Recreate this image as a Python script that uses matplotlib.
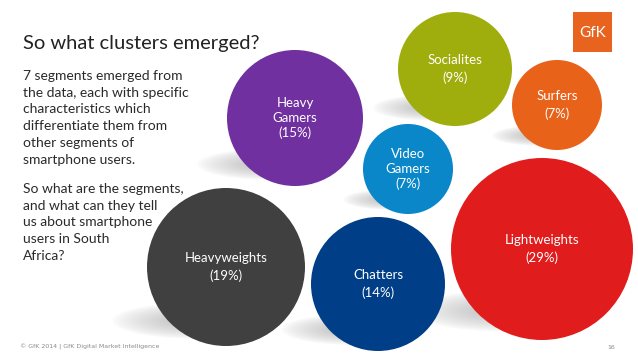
import numpy as np
import matplotlib
matplotlib.use("Agg")
import matplotlib.pyplot as plt
from matplotlib.patches import Circle, Rectangle

# segment data (bubble positions / sizes, in pixels)
segments = ["Heavy\nGamers", "Socialites", "Surfers", "Video\nGamers",
            "Heavyweights", "Chatters", "Lightweights"]
shares = [15, 9, 7, 7, 19, 14, 29]
bubble_x = [295, 455, 557, 408, 226, 378, 542]
bubble_y = [118, 69, 105, 169, 267, 284, 249]
bubble_r = [68, 57, 45, 45, 79, 67, 91]
colours = ["#7030a0", "#9fae0c", "#e8621a", "#0a87c8",
           "#404040", "#003f87", "#e01c1c"]

title = "So what clusters emerged?"
para1 = ["7 segments emerged from", "the data, each with specific",
         "characteristics which", "differentiate them from",
         "other segments of", "smartphone users."]
para2 = ["So what are the segments,", "and what can they tell",
         "us about smartphone", "users in South", "Africa?"]
footer = "\u00a9 GfK 2014 | GfK Digital Market Intelligence"
page_no = "16"

W, H = 638, 359
fig = plt.figure(figsize=(W / 100, H / 100), dpi=100)
ax = fig.add_axes([0, 0, 1, 1])
ax.set_xlim(0, W)
ax.set_ylim(H, 0)
ax.axis("off")

font = "Lato"

# soft drop shadows under each bubble
yy, xx = np.mgrid[0:H, 0:W] + 0.5
alpha = np.zeros((H, W))
for x, y, r in zip(bubble_x, bubble_y, bubble_r):
    sx, sy = x - 0.4 * r, y + 0.68 * r
    d = np.sqrt(((xx - sx) / (1.05 * r)) ** 2 + ((yy - sy) / (0.23 * r)) ** 2)
    a = 0.7 * np.clip(1 - d, 0, 1) ** 0.8
    alpha = np.maximum(alpha, a)
shadow = np.zeros((H, W, 4))
shadow[..., :3] = 0.62
shadow[..., 3] = alpha
ax.imshow(shadow, extent=(0, W, H, 0), interpolation="bilinear", zorder=1)

for name, pct, x, y, r, c in zip(segments, shares, bubble_x, bubble_y,
                                 bubble_r, colours):
    ax.add_patch(Circle((x, y), r, color=c, lw=0, zorder=2))
    nlines = name.count("\n") + 2
    ls = 1.25 if nlines == 3 else 1.45
    ax.text(x, y, f"{name}\n({pct}%)", color="white", fontsize=9.5,
            family=font, ha="center", va="center", linespacing=ls,
            zorder=3)

# text block on the left
ax.text(23, 49, title, fontsize=14.5, family=font, color="#222222",
        va="baseline", zorder=4)
for i, line in enumerate(para1):
    ax.text(23, 80 + i * 16.7, line, fontsize=10, family=font,
            color="#2a2a2a", va="baseline", zorder=4)
for i, line in enumerate(para2):
    ax.text(23, 193 + i * 16.7, line, fontsize=10, family=font,
            color="#2a2a2a", va="baseline", zorder=4)

# logo
ax.add_patch(Rectangle((573, 12), 39, 40, color="#e8641e", lw=0, zorder=4))
ax.text(592.5, 33, "GfK", color="white", fontsize=11, family=font,
        ha="center", va="center", zorder=5)

ax.text(20, 349, footer, fontsize=4.5, family="DejaVu Sans",
        color="#8a8a8a", va="baseline", zorder=4)
ax.text(615, 349, page_no, fontsize=4.5, family="DejaVu Sans",
        color="#8a8a8a", ha="right", va="baseline", zorder=4)

fig.savefig("out.png", dpi=100, facecolor="white")
